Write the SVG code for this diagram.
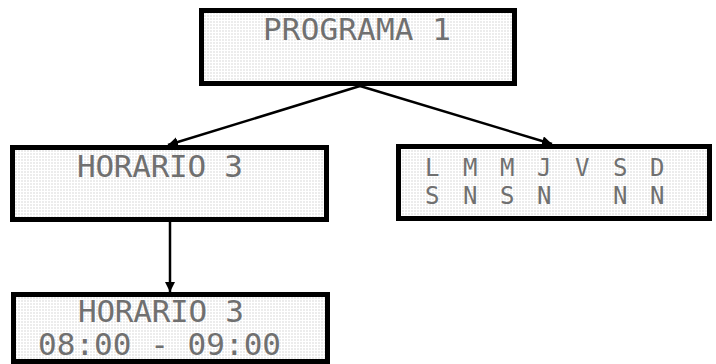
<svg xmlns="http://www.w3.org/2000/svg" width="716" height="364" viewBox="0 0 716 364">
<defs>
<pattern id="lcd" width="3" height="3" patternUnits="userSpaceOnUse">
<rect width="3" height="3" fill="#ffffff"/>
<rect width="2" height="2" fill="#ececec"/>
</pattern>
<marker id="arr" viewBox="0 0 10 10" refX="10" refY="5" markerWidth="10" markerHeight="10" markerUnits="userSpaceOnUse" orient="auto">
<path d="M0,0 L10,5 L0,10 Z" fill="#000"/>
</marker>
<style>
.box{fill:url(#lcd);stroke:#000;stroke-width:5}
.lcd{font-family:"DejaVu Sans Mono","Liberation Mono",monospace;font-size:31px;fill:#707070}
.sm{font-size:24px}
.conn{stroke:#000;stroke-width:2.5;fill:none;marker-end:url(#arr)}
</style>
</defs>
<rect width="716" height="364" fill="#fff"/>
<g id="connectors">
<line class="conn" x1="360" y1="86" x2="168" y2="145"/>
<line class="conn" x1="360" y1="86" x2="552" y2="144"/>
<line class="conn" x1="170" y1="222" x2="170" y2="292"/>
</g>
<g id="programa">
<rect class="box" x="201.5" y="10.5" width="313" height="73"/>
<text class="lcd" x="263" y="40" textLength="188">PROGRAMA 1</text>
</g>
<g id="horario">
<rect class="box" x="12.5" y="147.5" width="314" height="72"/>
<text class="lcd" x="77" y="177" textLength="166">HORARIO 3</text>
</g>
<g id="dias">
<rect class="box" x="398.5" y="146.5" width="311" height="72"/>
<text class="lcd sm" y="176"><tspan x="425">L</tspan><tspan x="463">M</tspan><tspan x="500">M</tspan><tspan x="537">J</tspan><tspan x="575">V</tspan><tspan x="613">S</tspan><tspan x="650">D</tspan></text>
<text class="lcd sm" y="204"><tspan x="425">S</tspan><tspan x="463">N</tspan><tspan x="500">S</tspan><tspan x="537">N</tspan><tspan x="613">N</tspan><tspan x="650">N</tspan></text>
</g>
<g id="horario-detalle">
<rect class="box" x="13.5" y="294.5" width="314" height="67"/>
<text class="lcd" x="78" y="322" textLength="166">HORARIO 3</text>
<text class="lcd" x="38" y="355" textLength="243">08:00 - 09:00</text>
</g>
</svg>
